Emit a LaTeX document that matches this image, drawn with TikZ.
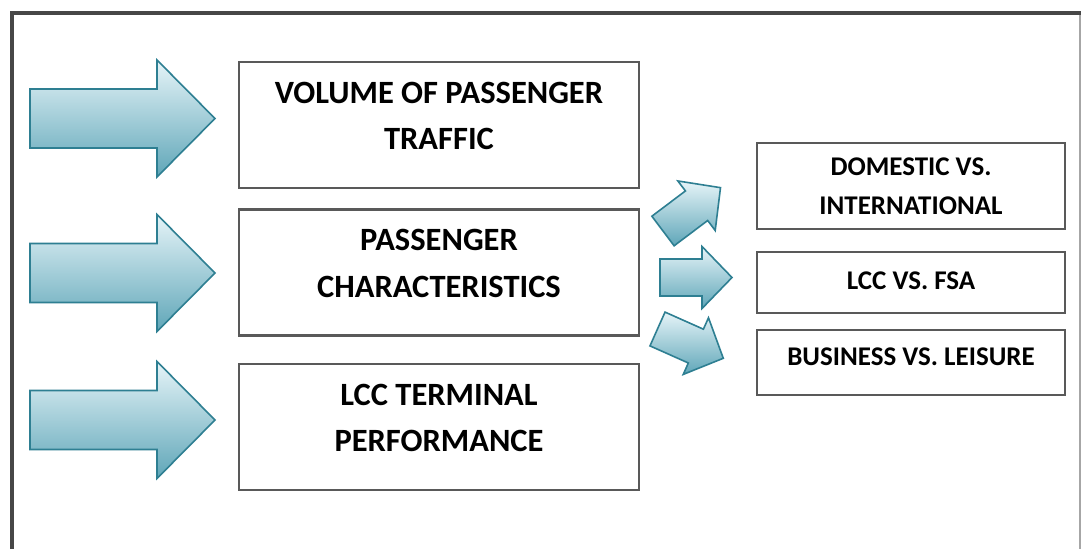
\documentclass[tikz,border=0pt]{standalone}
\usepackage{fontspec}
\setmainfont{Carlito}
\begin{document}
\begin{tikzpicture}[x=1pt,y=-1pt,
  frameline/.style={draw=black!72,line width=4pt},
  bigbox/.style={draw=black!65,line width=2.6pt,minimum width=400pt,minimum height=126pt,
     align=center,font=\fontsize{32.5}{46.5}\selectfont\bfseries,inner sep=0pt,text depth=18pt},
  smallbox/.style={draw=black!65,line width=2.6pt,minimum width=308pt,
     align=center,font=\fontsize{27}{39.5}\selectfont\bfseries,inner sep=0pt},
  arrfill/.style={draw=arrowedge,line width=1.6pt,line join=miter,top color=arrowtop,bottom color=arrowbot},
  bigarr/.pic={\path[arrfill] (0,-29.5) -- (127,-29.5) -- (127,-58.5) -- (185,0) -- (127,58.5) -- (127,29.5) -- (0,29.5) -- cycle;},
  smallarr/.pic={\path[arrfill] (0,-18.5) -- (42,-18.5) -- (42,-31) -- (72,0) -- (42,31) -- (42,18.5) -- (0,18.5) -- cycle;}
]
\definecolor{arrowedge}{HTML}{2E7F92}
\definecolor{arrowtop}{HTML}{E6F4F8}
\definecolor{arrowbot}{HTML}{5FA6B8}
\useasboundingbox (0,0) rectangle (1082,549);
\fill[white] (0,0) rectangle (1082,549);
% outer frame
\draw[black!35,line width=1.2pt] (1080,13) -- (1080,560);
\draw[frameline] (12,13) -- (1081,13);
\draw[frameline] (12,11) -- (12,560);
% left arrows
\pic at (30,118.5) {bigarr};
\pic at (30,273) {bigarr};
\pic at (30,420) {bigarr};
% left boxes
\node[bigbox] (vol) at (439,125) {VOLUME OF PASSENGER\\TRAFFIC};
\node[bigbox] (pc) at (439,272.5) {PASSENGER\\CHARACTERISTICS};
\node[bigbox] (lcc) at (439,427) {LCC TERMINAL\\PERFORMANCE};
% small arrows
\pic[rotate=37] at (663,231) {smallarr};
\pic at (660,277.5) {smallarr};
\pic[rotate=-24] at (657.5,329) {smallarr};
% right boxes
\node[smallbox,minimum height=86pt] (dom) at (911,186) {DOMESTIC VS.\\INTERNATIONAL};
\node[smallbox,minimum height=61pt,text depth=4pt] (fsa) at (911,282.5) {LCC VS. FSA};
\node[smallbox,minimum height=65pt,text depth=12pt] (bus) at (911,362.5) {BUSINESS VS. LEISURE};
\end{tikzpicture}
\end{document}
